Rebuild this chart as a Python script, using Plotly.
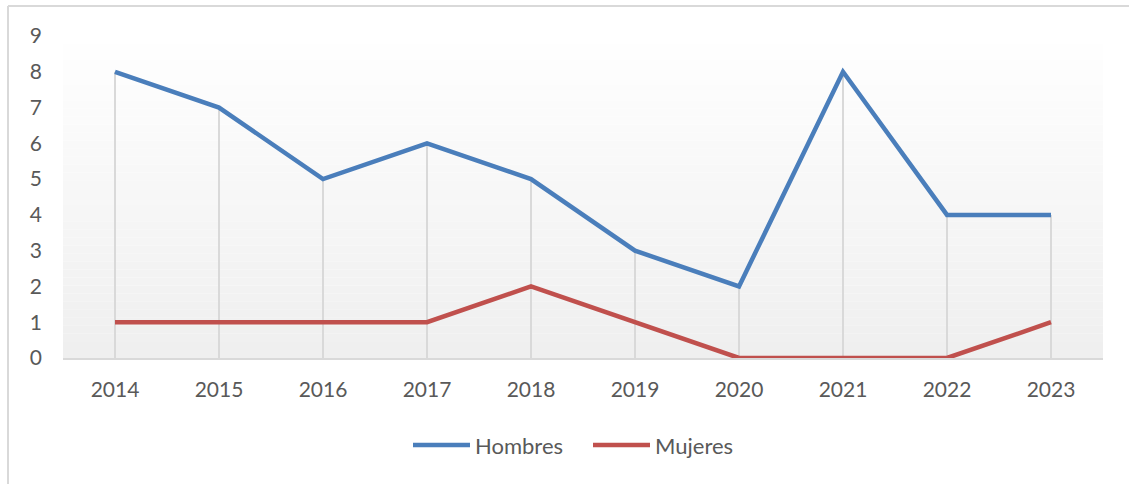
import plotly.graph_objects as go

years = ["2014", "2015", "2016", "2017", "2018", "2019", "2020", "2021", "2022", "2023"]
hombres = [8, 7, 5, 6, 5, 3, 2, 8, 4, 4]
mujeres = [1, 1, 1, 1, 2, 1, 0, 0, 0, 1]
y_ticks = [0, 1, 2, 3, 4, 5, 6, 7, 8, 9]
series_names = ["Hombres", "Mujeres"]
series_colors = ["#4a7ebb", "#c0504d"]

W, H = 1129, 484
L, R, T, B = 63, 26, 36, 126
pw, ph = W - L - R, H - T - B

def px_x(p):
    return (p - L) / pw

def px_y(p):
    return (H - B - p) / ph

font = "Lato, 'Open Sans', sans-serif"
grey_text = "#595959"

fig = go.Figure()

# drop lines from highest point down to axis
dx, dy = [], []
for yr, h, m in zip(years, hombres, mujeres):
    dx += [yr, yr, None]
    dy += [0, max(h, m), None]
fig.add_trace(go.Scatter(x=dx, y=dy, mode="lines", line=dict(color="#d9d9d9", width=2),
                         showlegend=False, hoverinfo="skip"))

for name, vals, col in zip(series_names, [hombres, mujeres], series_colors):
    fig.add_trace(go.Scatter(x=years, y=vals, mode="lines", name=name,
                             line=dict(color=col, width=4.5), showlegend=False))

shapes = []
# gradient background of plot area
n = 40
for i in range(n):
    f = i / n
    c = int(round(255 - (255 - 239) * (1 - f)))
    shapes.append(dict(type="rect", xref="paper", yref="paper", layer="below",
                       x0=0, x1=1, y0=f, y1=(i + 1) / n,
                       fillcolor=f"rgb({c},{c},{c})", line=dict(width=0)))
# chart frame (left and top border)
shapes.append(dict(type="line", xref="paper", yref="paper",
                   x0=px_x(8), x1=px_x(8), y0=px_y(484), y1=px_y(6),
                   line=dict(color="#d9d9d9", width=2)))
shapes.append(dict(type="line", xref="paper", yref="paper",
                   x0=px_x(8), x1=px_x(1129), y0=px_y(6), y1=px_y(6),
                   line=dict(color="#d9d9d9", width=2)))

# custom legend (Excel style: long line samples)
annotations = []
leg_y = px_y(445)
for name, col, x0 in zip(series_names, series_colors, [413, 593]):
    shapes.append(dict(type="line", xref="paper", yref="paper",
                       x0=px_x(x0), x1=px_x(x0 + 57), y0=leg_y, y1=leg_y,
                       line=dict(color=col, width=4.5)))
    annotations.append(dict(xref="paper", yref="paper", x=px_x(x0 + 60), y=leg_y,
                            xanchor="left", yanchor="middle", showarrow=False,
                            text=name, font=dict(size=22, color=grey_text, family=font)))

fig.update_layout(
    width=W, height=H,
    margin=dict(l=L, r=R, t=T, b=B),
    paper_bgcolor="white",
    plot_bgcolor="rgba(0,0,0,0)",
    shapes=shapes,
    annotations=annotations,
    font=dict(family=font, size=21, color=grey_text),
    showlegend=False,
)
fig.update_xaxes(type="category", range=[-0.5, 9.5], showgrid=False, zeroline=False, showline=True,
                 linecolor="#d9d9d9", linewidth=2, ticks="", ticklabelstandoff=12,
                 tickfont=dict(size=21, color=grey_text))
fig.update_yaxes(range=[0, 9], tickvals=y_ticks, showgrid=False, zeroline=False,
                 showline=False, ticks="", ticklabelstandoff=20,
                 tickfont=dict(size=21, color=grey_text))

fig.write_html("out.html", config={"displayModeBar": False},
               post_script="document.body.style.margin='0';")
